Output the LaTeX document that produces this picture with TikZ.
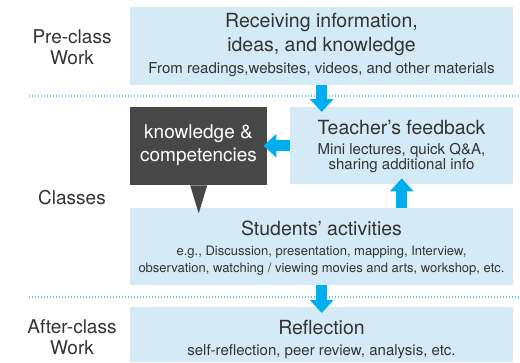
\documentclass[tikz,border=0pt]{standalone}
\usepackage{fontspec}
\setmainfont{TeX Gyre Heros}
\usetikzlibrary{arrows.meta}
\definecolor{boxblue}{HTML}{D4EAF6}
\definecolor{arrowblue}{HTML}{00AEEF}
\definecolor{darkbox}{HTML}{474747}
\definecolor{dotblue}{HTML}{55C5EE}
\definecolor{textgray}{HTML}{333333}

\begin{document}
\begin{tikzpicture}[x=1pt,y=-1pt,
  box/.style={fill=boxblue, inner sep=0pt, anchor=north west},
  big/.style={font=\fontsize{19.5}{23}\selectfont, text=textgray, align=center},
  small/.style={font=\fontsize{15}{17}\selectfont, text=textgray, align=center},
  flow/.style={draw=arrowblue, line width=11pt, -{Triangle[width=23pt,length=13pt]}},
  sep/.style={dotblue, line width=1.2pt, dash pattern=on 1.2pt off 1.8pt}]

\useasboundingbox (0,0) rectangle (520,362);

\node[box, minimum width=383pt, minimum height=78pt] (pre) at (130,7) {};
\node[box, fill=darkbox, minimum width=137pt, minimum height=78pt] (kc) at (130,107) {};
\node[box, minimum width=223pt, minimum height=77pt] (tfb) at (290,107) {};
\node[box, minimum width=383pt, minimum height=77pt] (st) at (130,208) {};
\node[box, minimum width=383pt, minimum height=55pt] (refl) at (130,307) {};
\fill[darkbox] ([xshift=-8.5pt]kc.south) -- ([xshift=8.5pt]kc.south) -- ([yshift=-28pt]kc.south) -- cycle;

\draw[sep] (29,96) -- (520,96);
\draw[sep] (29,297) -- (520,297);

\node[big, font=\fontsize{19}{21}\selectfont] (prelbl) at (72,47) {Pre-class\\Work};
\node[big, font=\fontsize{19}{21}\selectfont] (clslbl) at (72,198) {Classes};
\node[big, font=\fontsize{19}{21}\selectfont] (afterlbl) at (72,337) {After-class\\Work};

\node[big] (pre1) at (321.5,22) {Receiving information,};
\node[big] (pre2) at (321.5,47) {ideas, and knowledge};
\node[small] (pre3) at (321.5,70) {From readings,websites, videos, and other materials};
\node[big, text=white, font=\fontsize{19}{23}\selectfont] (kctext) at (198.5,145) {knowledge \&\\competencies};
\node[big] (tfb1) at (401.5,128) {Teacher's feedback};
\node[small, font=\fontsize{15}{15.5}\selectfont] (tfb2) at (401.5,158) {Mini lectures, quick Q\&A,\\sharing additional info};
\node[big] (st1) at (321.5,228) {Students' activities};
\node[small, font=\fontsize{13}{16.5}\selectfont] (st2) at (321.5,260.5) {e.g., Discussion, presentation, mapping, Interview,\\observation, watching / viewing movies and arts, workshop, etc.};
\node[big] (refl1) at (321.5,328) {Reflection};
\node[small] (refl2) at (321.5,352) {self-reflection, peer review, analysis, etc.};

\draw[flow, shorten >=-5pt] (pre.south) -- (pre.south |- tfb.north);
\draw[flow, shorten >=-4pt] (tfb.west) -- (tfb.west -| kc.east);
\draw[flow, shorten >=-6pt] (tfb.south |- st.north) -- (tfb.south);
\draw[flow, shorten >=-6pt] (st.south) -- (st.south |- refl.north);

\end{tikzpicture}
\end{document}
